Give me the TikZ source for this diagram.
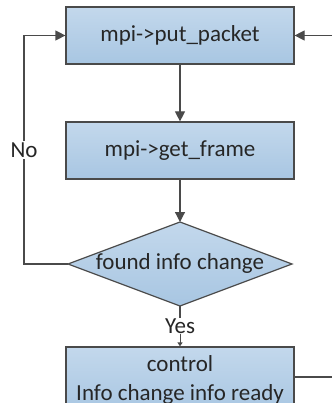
\documentclass[tikz,border=0pt]{standalone}
\usepackage{fontspec}
\setmainfont{Carlito}
\usetikzlibrary{arrows.meta}
\definecolor{boxtop}{HTML}{C3D8EC}
\definecolor{boxbot}{HTML}{A8C6E2}
\definecolor{edge}{HTML}{4A4A4A}
\tikzset{
  stepbox/.style={draw=edge, line width=1.2pt, top color=boxtop, bottom color=boxbot,
    minimum width=228pt, minimum height=57pt, inner sep=0pt, align=center,
    font=\fontsize{23pt}{29pt}\selectfont, text=black!85},
  wire/.style={draw=edge, line width=1.2pt},
  flow/.style={wire, -{Triangle[length=10pt,width=10pt]}},
  lbl/.style={font=\fontsize{23pt}{27pt}\selectfont, text=black!85, inner sep=1pt}
}
\begin{document}
\begin{tikzpicture}[x=1pt,y=-1pt]
\useasboundingbox (0,0) rectangle (332,403);
\clip (0,0) rectangle (332,403);
% process boxes
\node[stepbox] (put) at (180,35.5) {mpi->put\_packet};
\node[stepbox] (get) at (180,150.5) {mpi->get\_frame};
% decision diamond
\path[wire, top color=boxtop, bottom color=boxbot]
  (180,222) -- (292,264) -- (180,306) -- (68,264) -- cycle;
\node[lbl] (found) at (180,263) {found info change};
\coordinate (ftop) at (180,222);
\coordinate (fbot) at (180,306);
\coordinate (fleft) at (68,264);
\node[stepbox, minimum height=66pt] (ctrl) at (180,380) {control\\Info change info ready};
% loop and side connectors
\coordinate (corner) at (24,264);
\coordinate (back) at (24,35.5);
\coordinate (inR) at (332,35.5);
\coordinate (outR) at (332,377);
\node[lbl, fill=white] (no) at (24,150) {No};
\node[lbl, fill=white, inner sep=0pt] (yes) at (180,326) {Yes};
\draw[flow] (put) -- (get);
\draw[flow] (get) -- (ftop);
\draw[wire] (fleft) -- (corner) -- (no);
\draw[flow] (no) -- (back) -- (put);
\draw[flow] (inR) -- (put);
\draw[wire] (fbot) -- (yes);
\draw[wire, line width=1pt, -{Triangle[length=4pt,width=5pt]}] (yes) -- (ctrl);
\draw[wire] (ctrl.east |- outR) -- (outR);
\end{tikzpicture}
\end{document}
